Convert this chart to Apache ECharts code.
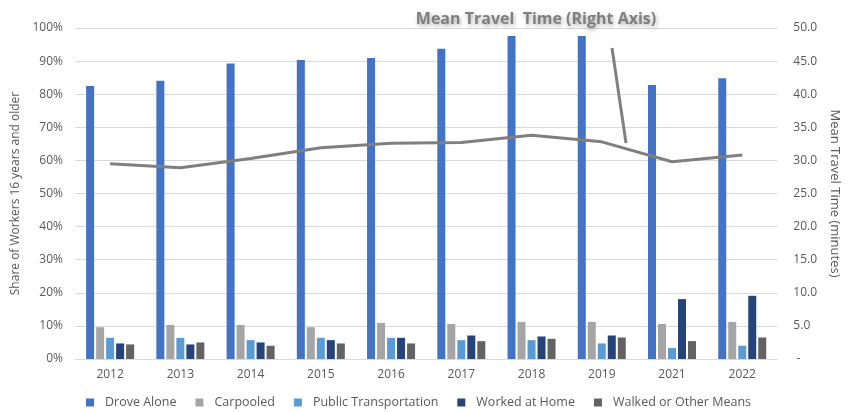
<!DOCTYPE html>
<html>
<head>
<meta charset="utf-8">
<script src="https://cdn.jsdelivr.net/npm/echarts@6/dist/echarts.min.js"></script>
<style>html,body{margin:0;padding:0;background:#fff;}#c{width:849px;height:412px;}</style>
</head>
<body>
<div id="c"></div>
<script>
const years = ['2012','2013','2014','2015','2016','2017','2018','2019','2021','2022'];
const droveAlone = [82.5, 84.1, 89.3, 90.3, 90.9, 93.7, 97.6, 97.6, 82.8, 84.8];
const carpooled = [9.6, 10.3, 10.3, 9.6, 10.9, 10.6, 11.2, 11.2, 10.6, 11.2];
const publicTransportation = [6.4, 6.4, 5.7, 6.4, 6.4, 5.7, 5.7, 4.7, 3.3, 4.0];
const workedAtHome = [4.7, 4.4, 5.0, 5.7, 6.4, 7.1, 6.8, 7.1, 18.1, 19.1];
const walkedOther = [4.4, 5.0, 4.0, 4.7, 4.7, 5.4, 6.1, 6.5, 5.4, 6.5];
const meanTravelTime = [29.5, 28.9, 30.3, 31.9, 32.6, 32.7, 33.8, 32.8, 29.8, 30.8];

const chart = echarts.init(document.getElementById('c'), null, {renderer: 'canvas'});
const txt = '#595959';
const font = 'Open Sans';
function bar(name, data, color) {
  return {name, type: 'bar', data, yAxisIndex: 0, barWidth: 8, barGap: '25%',
    itemStyle: {color}};
}
chart.setOption({
  animation: false,
  textStyle: {fontFamily: font},
  title: {
    text: 'Mean Travel  Time (Right Axis)', left: 531, top: 6, textAlign: 'center',
    textStyle: {fontFamily: 'Open Sans', fontSize: 16, fontWeight: 'bold', color: '#7f7f7f',
      textShadowColor: 'rgba(0,0,0,0.35)', textShadowBlur: 4, textShadowOffsetX: 1, textShadowOffsetY: 2}
  },
  grid: {left: 75, right: 70, top: 28, bottom: 53, containLabel: false},
  legend: {
    top: 396, left: 86, padding: 0, itemWidth: 8, itemHeight: 8, itemGap: 19, icon: 'rect',
    textStyle: {color: txt, fontSize: 12.5, fontFamily: font, padding: [0, 0, 0, 6]},
    data: ['Drove Alone','Carpooled','Public Transportation','Worked at Home','Walked or Other Means']
  },
  xAxis: {
    type: 'category', data: years,
    axisLine: {lineStyle: {color: '#d9d9d9', width: 1}},
    axisTick: {show: false},
    axisLabel: {color: txt, fontSize: 12, margin: 10}
  },
  yAxis: [{
    type: 'value', min: 0, max: 100, interval: 10,
    name: 'Share of Workers 16 years and older', nameLocation: 'middle', nameGap: 52,
    nameTextStyle: {color: txt, fontSize: 12},
    axisLabel: {color: txt, fontSize: 12, formatter: v => v + '%', margin: 12},
    splitLine: {lineStyle: {color: '#d9d9d9'}},
    axisLine: {show: false}, axisTick: {show: false}
  }, {
    type: 'value', min: 0, max: 50, interval: 5, position: 'right',
    name: 'Mean Travel Time (minutes)', nameLocation: 'middle', nameGap: 47, nameRotate: -90,
    nameTextStyle: {color: txt, fontSize: 13},
    axisLabel: {color: txt, fontSize: 12, formatter: v => v === 0 ? ' -  ' : v.toFixed(1), margin: 16},
    splitLine: {show: false},
    axisLine: {show: false}, axisTick: {show: false}
  }],
  series: [
    bar('Drove Alone', droveAlone, '#4472C4'),
    bar('Carpooled', carpooled, '#A5A5A5'),
    bar('Public Transportation', publicTransportation, '#5B9BD5'),
    bar('Worked at Home', workedAtHome, '#264478'),
    bar('Walked or Other Means', walkedOther, '#636363'),
    {name: 'Mean Travel Time', type: 'line', yAxisIndex: 1, data: meanTravelTime,
      symbol: 'none', lineStyle: {color: '#7f7f7f', width: 3}, itemStyle: {color: '#7f7f7f'}, z: 5}
  ],
  graphic: [{
    type: 'line', shape: {x1: 612, y1: 48, x2: 626, y2: 143},
    style: {stroke: '#808080', lineWidth: 3}, z: 10
  }]
});
</script>
</body>
</html>
